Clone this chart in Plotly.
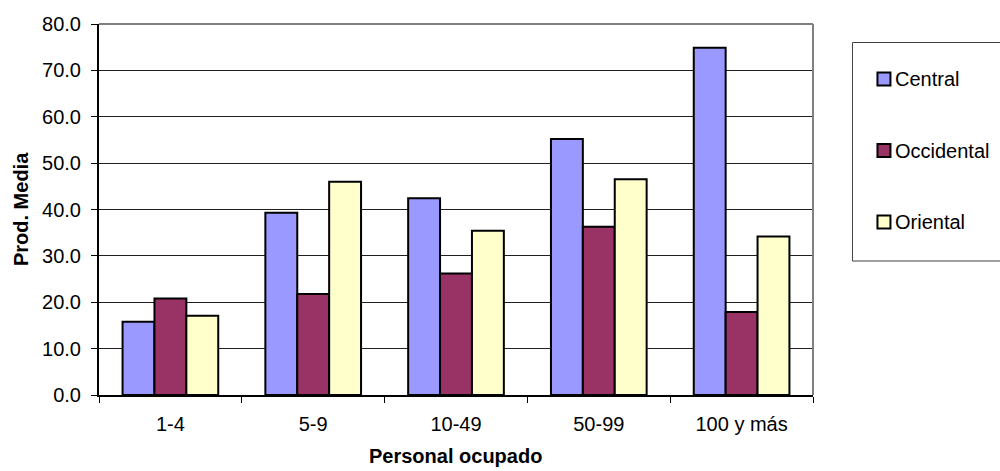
import plotly.graph_objects as go

# Average production by number of employees and region
categorias = ["1-4", "5-9", "10-49", "50-99", "100 y más"]
regiones = ["Central", "Occidental", "Oriental"]
central = [15.8, 39.3, 42.4, 55.2, 74.9]
occidental = [20.8, 21.8, 26.2, 36.3, 17.9]
oriental = [17.1, 46.0, 35.4, 46.5, 34.2]
colores = ["#9999FF", "#993366", "#FFFFCC"]
y_ticks = [0, 10, 20, 30, 40, 50, 60, 70, 80]

W, H = 1000, 471
L, R, T, B = 98.5, 813.0, 24.0, 395.0
FONT = "Liberation Sans, Arial, sans-serif"


def px_x(p):
    return (p - L) / (R - L)


def px_y(p):
    return (B - p) / (B - T)


fig = go.Figure()
for nombre, valores, color in zip(regiones, [central, occidental, oriental], colores):
    fig.add_trace(go.Bar(
        x=categorias, y=valores, name=nombre,
        marker=dict(color=color, line=dict(color="black", width=2)),
        showlegend=False,
    ))

shapes = [
    # grey frame on top and right of the plot area
    dict(type="line", xref="x domain", yref="y domain", x0=0, x1=1, y0=1, y1=1,
         line=dict(color="#808080", width=2)),
    dict(type="line", xref="x domain", yref="y domain", x0=1, x1=1, y0=0, y1=1,
         line=dict(color="#808080", width=2)),
    # legend box
    dict(type="rect", xref="paper", yref="paper",
         x0=px_x(852.5), x1=px_x(1003), y0=px_y(42.5), y1=px_y(261),
         line=dict(color="#404040", width=1), fillcolor="white"),
]
annotations = []
leg_y = [79, 150.5, 222]
for nombre, color, yc in zip(regiones, colores, leg_y):
    shapes.append(dict(type="rect", xref="paper", yref="paper",
                       x0=px_x(877.5), x1=px_x(890.5), y0=px_y(yc - 6.5), y1=px_y(yc + 6.5),
                       line=dict(color="black", width=2), fillcolor=color))
    annotations.append(dict(text=nombre, xref="paper", yref="paper",
                            x=px_x(893), y=px_y(yc), xanchor="left", yanchor="middle",
                            showarrow=False, font=dict(family=FONT, size=20, color="black")))

annotations.append(dict(text="<b>Prod. Media</b>", xref="paper", yref="paper",
                        x=px_x(20), y=px_y(209.5), textangle=-90,
                        xanchor="center", yanchor="middle", showarrow=False,
                        font=dict(family=FONT, size=20, color="black")))
annotations.append(dict(text="<b>Personal ocupado</b>", xref="paper", yref="paper",
                        x=px_x(455.5), y=px_y(456), xanchor="center", yanchor="middle",
                        showarrow=False, font=dict(family=FONT, size=20, color="black")))

fig.update_layout(
    width=W, height=H,
    margin=dict(l=L, r=W - R, t=T, b=H - B, pad=0),
    paper_bgcolor="white", plot_bgcolor="white",
    barmode="group", bargap=0.33, bargroupgap=0,
    font=dict(family=FONT, size=20, color="black"),
    shapes=shapes, annotations=annotations,
    xaxis=dict(
        showline=True, linecolor="black", linewidth=2,
        ticks="outside", tickson="boundaries", ticklen=6, tickcolor="black", tickwidth=1,
        ticklabelstandoff=10,
        showgrid=False, tickfont=dict(family=FONT, size=20, color="black"),
    ),
    yaxis=dict(
        range=[0, 80], tickvals=y_ticks, tickformat=".1f",
        showline=True, linecolor="black", linewidth=2,
        ticks="outside", ticklen=6, tickcolor="black", tickwidth=1,
        ticklabelstandoff=6,
        showgrid=True, gridcolor="#202020", gridwidth=1, zeroline=False,
        tickfont=dict(family=FONT, size=20, color="black"),
    ),
)

fig.write_html("out.html")
